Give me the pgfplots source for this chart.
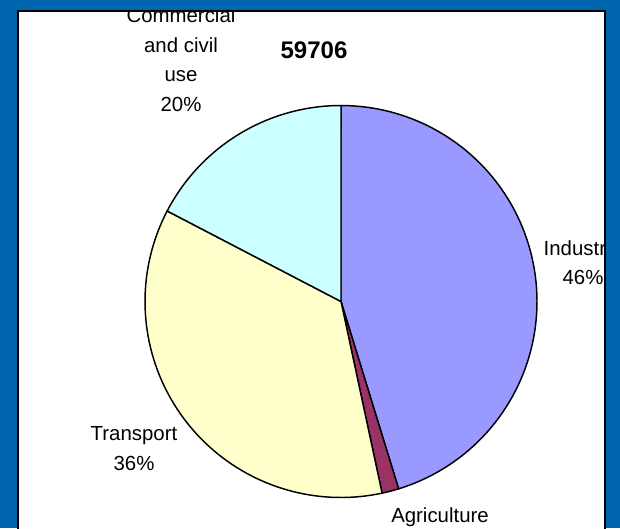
\documentclass[border=0pt]{standalone}
\usepackage{pgfplots}
\pgfplotsset{compat=1.18}
\usepackage{pgfplotstable}
\usepackage{fontspec}
\setmainfont{Liberation Sans}
\definecolor{bgblue}{HTML}{0066B0}
\definecolor{indcol}{HTML}{9999FF}
\definecolor{agrcol}{HTML}{993366}
\definecolor{tracol}{HTML}{FFFFCC}
\definecolor{comcol}{HTML}{CCFFFF}
\tikzset{lab/.style={anchor=base, inner sep=0pt, font=\fontsize{15.3}{18}\selectfont}}

% share of the pie (percent of the full circle), clockwise from 12 o'clock
\pgfplotstableread{
label value
Industry 45.25
Agriculture 1.39
Transport 36.00
Commercial 17.36
}\piedata

\begin{document}
\begin{tikzpicture}
\pgfplotstablegetelem{0}{value}\of\piedata \pgfmathsetmacro\vA{\pgfplotsretval}
\pgfplotstablegetelem{1}{value}\of\piedata \pgfmathsetmacro\vB{\pgfplotsretval}
\pgfplotstablegetelem{2}{value}\of\piedata \pgfmathsetmacro\vC{\pgfplotsretval}
\pgfplotstablegetelem{3}{value}\of\piedata \pgfmathsetmacro\vD{\pgfplotsretval}
\pgfmathsetmacro\aO{90}
\pgfmathsetmacro\aA{\aO-3.6*\vA}
\pgfmathsetmacro\aB{\aA-3.6*\vB}
\pgfmathsetmacro\aC{\aB-3.6*\vC}
\pgfmathsetmacro\aD{\aC-3.6*\vD}
\begin{axis}[
  scale only axis, width=465pt, height=396pt,
  xmin=0, xmax=620, ymin=0, ymax=528, y dir=reverse,
  hide axis, clip=false,
]
% background
\fill[bgblue] (axis cs:0,0) rectangle (axis cs:620,528);
\fill[white] (axis cs:18,11) rectangle (axis cs:605,540);
\draw[black, line width=1.1pt] (axis cs:18,540) -- (axis cs:18,11) -- (axis cs:605,11) -- (axis cs:605,540);

% pie slices
\addplot[fill=indcol, draw=black, line width=1.1pt, domain=\aA:\aO, samples=90, variable=\t]
  ({341+196*cos(\t)},{301.5-196*sin(\t)}) -- (axis cs:341,301.5) -- cycle;
\addplot[fill=agrcol, draw=black, line width=1.1pt, domain=\aB:\aA, samples=6, variable=\t]
  ({341+196*cos(\t)},{301.5-196*sin(\t)}) -- (axis cs:341,301.5) -- cycle;
\addplot[fill=tracol, draw=black, line width=1.1pt, domain=\aC:\aB, samples=80, variable=\t]
  ({341+196*cos(\t)},{301.5-196*sin(\t)}) -- (axis cs:341,301.5) -- cycle;
\addplot[fill=comcol, draw=black, line width=1.1pt, domain=\aD:\aC, samples=50, variable=\t]
  ({341+196*cos(\t)},{301.5-196*sin(\t)}) -- (axis cs:341,301.5) -- cycle;

% labels
\begin{scope}
\clip (axis cs:19,12) rectangle (axis cs:604,540);
\node[anchor=base, inner sep=0pt, font=\fontsize{18}{22}\selectfont\bfseries] at (axis cs:314,59) {59706};
\node[lab] at (axis cs:181,23) {Commercial};
\node[lab] at (axis cs:181,52.3) {and civil};
\node[lab] at (axis cs:181,81.7) {use};
\node[lab] at (axis cs:181,111) {20\%};
\node[lab] at (axis cs:580,255) {Industry};
\node[lab] at (axis cs:583,284) {46\%};
\node[lab] at (axis cs:134,440) {Transport};
\node[lab] at (axis cs:134,470) {36\%};
\node[lab] at (axis cs:440,522.6) {Agriculture};
\end{scope}
\end{axis}
\pgfresetboundingbox
\path (0,0) rectangle (465pt,396pt);
\end{tikzpicture}
\end{document}
